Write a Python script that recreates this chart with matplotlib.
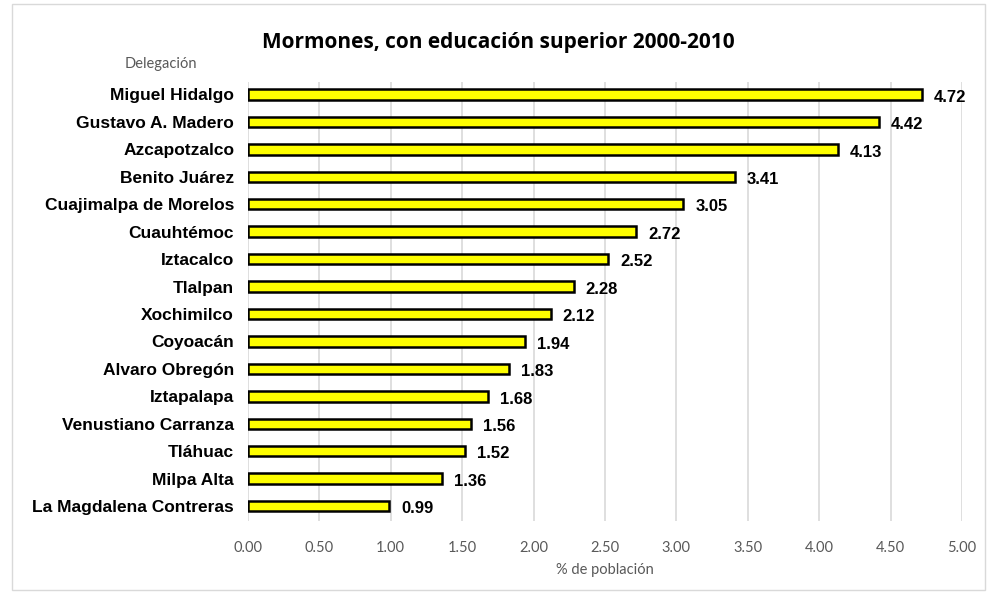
import matplotlib
matplotlib.use('Agg')
import matplotlib.pyplot as plt
from matplotlib.patches import Rectangle
import numpy as np

delegaciones = ['Miguel Hidalgo', 'Gustavo A. Madero', 'Azcapotzalco', 'Benito Juárez',
                'Cuajimalpa de Morelos', 'Cuauhtémoc', 'Iztacalco', 'Tlalpan', 'Xochimilco',
                'Coyoacán', 'Alvaro Obregón', 'Iztapalapa', 'Venustiano Carranza', 'Tláhuac',
                'Milpa Alta', 'La Magdalena Contreras']
porcentajes = [4.72, 4.42, 4.13, 3.41, 3.05, 2.72, 2.52, 2.28, 2.12,
               1.94, 1.83, 1.68, 1.56, 1.52, 1.36, 0.99]
x_ticks = [0.0, 0.5, 1.0, 1.5, 2.0, 2.5, 3.0, 3.5, 4.0, 4.5, 5.0]

fig = plt.figure(figsize=(9.97, 5.95), dpi=100)
ax = fig.add_axes([0.2487, 0.124, 0.7161, 0.738])

y = np.arange(len(delegaciones))
ax.barh(y, porcentajes, height=0.38, color='#ffff00', edgecolor='black', linewidth=1.8, zorder=3)

# etiquetas de valor
for yi, v in zip(y, porcentajes):
    ax.text(v + 0.085, yi + 0.1, f'{v:.2f}', va='center', ha='left',
            fontsize=12, fontweight='bold', family='Liberation Sans')

ax.set_xlim(0, 5)
ax.set_ylim(15.55, -0.45)
ax.set_xticks(x_ticks)
ax.set_xticklabels([f'{t:.2f}' for t in x_ticks], family='Lato', fontsize=10.5, color='#595959')
ax.set_yticks(y)
ax.set_yticklabels(delegaciones, family='Liberation Sans', fontweight='bold', fontsize=12.5)
ax.tick_params(axis='both', length=0)
ax.tick_params(axis='x', pad=14)
ax.tick_params(axis='y', pad=10)
ax.grid(axis='x', color='#d9d9d9', linewidth=1.2, zorder=0)
for s in ax.spines.values():
    s.set_visible(False)

ax.set_xlabel('% de población', family='Lato', fontsize=10.5, color='#595959', labelpad=6)

fig.text(0.5, 0.928, 'Mormones, con educación superior 2000-2010', ha='center', va='center',
         family='Open Sans', fontweight='bold', fontsize=15)
fig.text(0.161, 0.893, 'Delegación', ha='center', va='center', family='Lato',
         fontsize=10.5, color='#595959')

fig.patches.append(Rectangle((0.012, 0.008), 0.976, 0.985, transform=fig.transFigure,
                             fill=False, edgecolor='#d9d9d9', linewidth=1))

fig.savefig('out.png', dpi=100)
